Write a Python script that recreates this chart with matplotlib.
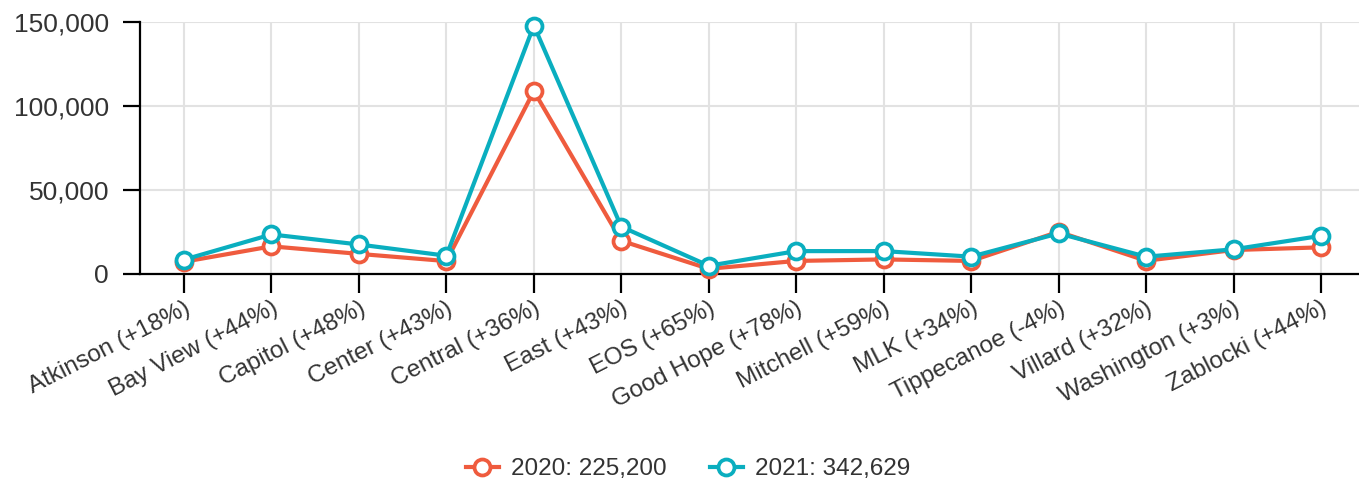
import matplotlib
matplotlib.use("Agg")
import matplotlib.pyplot as plt
from matplotlib.lines import Line2D
from matplotlib.ticker import FuncFormatter

# Library branches and year-over-year change
branches = ["Atkinson", "Bay View", "Capitol", "Center", "Central", "East", "EOS",
            "Good Hope", "Mitchell", "MLK", "Tippecanoe", "Villard", "Washington", "Zablocki"]
change_pct = ["+18%", "+44%", "+48%", "+43%", "+36%", "+43%", "+65%",
              "+78%", "+59%", "+34%", "-4%", "+32%", "+3%", "+44%"]

visits_2020 = [7000, 16200, 11700, 7400, 108800, 19500, 2800,
               7500, 8400, 7500, 24900, 7600, 14000, 15600]
visits_2021 = [8260, 23300, 17300, 10600, 147900, 27900, 4620,
               13350, 13360, 10050, 23900, 10030, 14420, 22460]

total_2020 = "225,200"
total_2021 = "342,629"

y_ticks = [0, 50000, 100000, 150000]

RED = "#EF5B3E"
TEAL = "#0AAEBF"
TEXT = "#333333"

plt.rcParams["font.family"] = ["Liberation Sans", "DejaVu Sans"]

fig = plt.figure(figsize=(13.59, 4.83), dpi=100)
left = 140.3 / 1359
bottom = 1 - 273.5 / 483
top = 1 - 22 / 483
width = (1364.7 - 140.3) / 1359
ax = fig.add_axes([left, bottom, width, top - bottom])

x = list(range(len(branches)))
marker_kw = dict(marker="o", markersize=11.5, markerfacecolor="white",
                 markeredgewidth=2.7)
ax.plot(x, visits_2020, color=RED, lw=3, zorder=3, clip_on=False, **marker_kw)
ax.plot(x, visits_2021, color=TEAL, lw=3, zorder=4, clip_on=False, **marker_kw)

ax.set_xlim(-0.5, len(branches) - 0.5)
ax.set_ylim(0, 150000)
ax.set_yticks(y_ticks)
ax.yaxis.set_major_formatter(FuncFormatter(lambda v, _: f"{int(v):,}"))
ax.set_xticks(x)
ax.set_xticklabels([f"{b} ({c})" for b, c in zip(branches, change_pct)],
                   rotation=27, ha="right", va="top", rotation_mode="anchor")

ax.grid(True, color="#e2e2e2", lw=1.5, zorder=0)
ax.set_axisbelow(True)
for side in ("top", "right"):
    ax.spines[side].set_visible(False)
for side in ("left", "bottom"):
    ax.spines[side].set_linewidth(1.6)
    ax.spines[side].set_color("black")

ax.tick_params(axis="y", length=12.5, width=1.6, pad=10, labelsize=19, labelcolor=TEXT)
ax.tick_params(axis="x", length=14, width=1.6, pad=3, labelsize=17.5, labelcolor=TEXT)

handles = [
    Line2D([], [], color=RED, lw=3, **marker_kw),
    Line2D([], [], color=TEAL, lw=3, **marker_kw),
]
fig.legend(handles, [f"2020: {total_2020}", f"2021: {total_2021}"],
           loc="center", bbox_to_anchor=(688 / 1359, 1 - 469 / 483), ncol=2,
           frameon=False, fontsize=17.5, labelcolor=TEXT, handlelength=1.35,
           handletextpad=0.5, columnspacing=1.8)

fig.savefig("out.png", dpi=100)
